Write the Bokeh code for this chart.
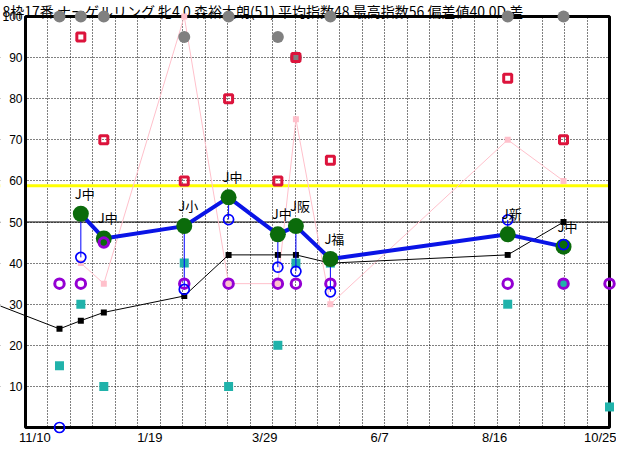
import math
from bokeh.plotting import figure
from bokeh.models import Range1d, FixedTicker, Span, BoxAnnotation, Label
from bokeh.core.properties import value
from bokeh.embed import file_html
from bokeh.resources import INLINE

nan = float("nan")

# ---------------- data ----------------
title_text = "8枠17番 ナーゲルリング 牝4 0 森裕太朗(51) 平均指数48 最高指数56 偏差値40.0D 差"
tick_days = [0, 70, 140, 210, 280, 350]            # days after 11/10
tick_labels = ["11/10", "1/19", "3/29", "6/7", "8/16", "10/25"]
y_ticks = [10, 20, 30, 40, 50, 60, 70, 80, 90, 100]

race_day = [15, 28, 42, 91, 118, 148, 159, 180, 288, 322, 350]
course = ["", "J中", "J中", "J小", "J中", "J中", "J阪", "J福", "J新", "J中", ""]
index_val = [nan, 52, 46, 49, 56, 47, 49, 41, 47, 44, nan]
sub_val = [0, 41.4, nan, 33.6, 50.6, 39, 38, 33, 50.5, 44.5, nan]
purple_val = [35, 35, 45, 35, 35, 35, 35, 35, 35, 35, 35]
teal_val = [15, 30, 10, 40, 10, 20, 40, 40, 30, 35, 5]
pink_val = [nan, 40, 35, 100, 35, 35, 75, 30, 70, 60, nan]
red_val = [nan, 95, 70, 60, 80, 60, 90, 65, 85, 70, nan]
gray_val = [100, 100, 100, 95, 100, 95, 90, 100, 100, 100, nan]
base_day = [-40, 15, 28, 42, 91, 118, 148, 159, 180, 288, 322]
base_val = [32.5, 24, 26, 28, 32, 42, 42, 42, 40, 42, 50]
standard_line = 58.8

chart_start, chart_end = -5.7, 350       # chart box in days
y_min, y_max = 0, 100
n_grid = 26

# ---------------- layout (frame = whole canvas) ----------------
W, H = 616, 444
box_left_px, box_right_px = 25.0, 609.0     # canvas px of chart box
box_top_px, box_bottom_px = 16.0, 427.0
k = (box_right_px - box_left_px) / (chart_end - chart_start)
x_lo = chart_start - box_left_px / k
x_hi = chart_end + (W - box_right_px) / k
ky = (box_bottom_px - box_top_px) / (y_max - y_min)
y_hi = y_max + box_top_px / ky
y_lo = y_min - (H - box_bottom_px) / ky

FONT = "Noto Sans CJK JP"
NUM_FONT = "Liberation Sans"

p = figure(width=W, height=H, output_backend="svg", toolbar_location=None,
           x_range=Range1d(x_lo, x_hi), y_range=Range1d(y_lo, y_hi),
           min_border=0, min_border_left=0, min_border_right=0,
           min_border_top=0, min_border_bottom=0)
p.outline_line_color = None
p.background_fill_color = "white"
p.border_fill_color = "white"

# axes placed inside the frame
xa, ya = p.xaxis[0], p.yaxis[0]
xa.fixed_location = y_min
ya.fixed_location = chart_start
xa.ticker = FixedTicker(ticks=tick_days[:-1])
xa.major_label_overrides = {d: t for d, t in zip(tick_days[:-1], tick_labels[:-1])}
ya.ticker = FixedTicker(ticks=y_ticks)
for ax in (xa, ya):
    ax.axis_line_color = None
    ax.major_tick_line_color = None
    ax.minor_tick_line_color = None
    ax.major_tick_out = 0
    ax.major_tick_in = 0
    ax.major_label_text_font = NUM_FONT
    ax.major_label_text_color = "black"
xa.major_label_text_font_size = "13px"
ya.major_label_text_font_size = "12px"
xa.major_label_standoff = 2
ya.major_label_standoff = 3

# grids
step = (chart_end - chart_start) / n_grid
p.xgrid.ticker = FixedTicker(ticks=[chart_start + i * step for i in range(1, n_grid)])
p.ygrid.ticker = FixedTicker(ticks=y_ticks[:-1])
for g in (p.xgrid[0], p.ygrid[0]):
    g.grid_line_color = "black"
    g.grid_line_dash = "1 2"
    g.grid_line_width = 1
    g.grid_line_alpha = 1

p.add_layout(Span(location=50, dimension="width", line_color="black",
                  line_width=1, level="underlay"))
p.add_layout(Span(location=standard_line, dimension="width", line_color="#FFFF00",
                  line_width=3, level="underlay"))
# white covers outside the chart box
for kw in (dict(bottom=y_max), dict(top=y_min), dict(left=chart_end), dict(right=chart_start)):
    p.add_layout(BoxAnnotation(fill_color="white", fill_alpha=1, line_alpha=0,
                               level="underlay", **kw))
p.add_layout(BoxAnnotation(left=chart_start, right=chart_end, bottom=y_min, top=y_max,
                           fill_color=None, fill_alpha=0, line_color="black",
                           line_width=3, line_alpha=1, level="underlay"))

# title and last date label
p.add_layout(Label(x=x_lo, y=y_hi, x_offset=2, text=title_text, text_baseline="top",
                   text_align="left", text_font=FONT, text_font_size="14px",
                   text_color="black", level="underlay"))
p.add_layout(Label(x=x_hi, y=y_min, text=tick_labels[-1], text_baseline="top",
                   text_align="right", y_offset=-2, text_font=NUM_FONT,
                   text_font_size="13px", text_color="black"))

# ---------------- series ----------------
p.line(race_day, pink_val, line_color="pink", line_width=1)
p.scatter(race_day, pink_val, marker="square", size=6, fill_color="pink", line_color=None)

p.line(base_day, base_val, line_color="black", line_width=1)
p.scatter(base_day, base_val, marker="square", size=6, fill_color="black", line_color=None)

p.scatter(race_day, teal_val, marker="square", size=9, fill_color="#20B2AA", line_color=None)

seg_x, seg_y0, seg_y1 = [], [], []
for d, a, b in zip(race_day, index_val, sub_val):
    if not (math.isnan(a) or math.isnan(b)):
        seg_x.append(d); seg_y0.append(a); seg_y1.append(b)
p.segment(seg_x, seg_y0, seg_x, seg_y1, line_color="blue", line_width=1)

p.line(race_day, index_val, line_color="#0A14E6", line_width=4)
p.scatter(race_day, index_val, marker="circle", size=16, fill_color="#0B6B0B", line_color=None)

p.scatter(race_day, purple_val, marker="circle", size=9.5, fill_color=None,
          line_color="#9400D3", line_width=3)
p.scatter(race_day, sub_val, marker="circle", size=10, fill_color=None,
          line_color="blue", line_width=1.7)

p.scatter(race_day, gray_val, marker="circle", size=12, fill_color="#808080", line_color=None)
p.scatter(race_day, red_val, marker="square", size=8, fill_color=None,
          line_color="#DC143C", line_width=3)

p.text(race_day, index_val, text=course, x_offset=4, y_offset=-11,
       text_align="center", text_baseline="bottom", text_font=value(FONT),
       text_font_size="13px", text_color="black")

open("out.html", "w").write(file_html(p, INLINE))
